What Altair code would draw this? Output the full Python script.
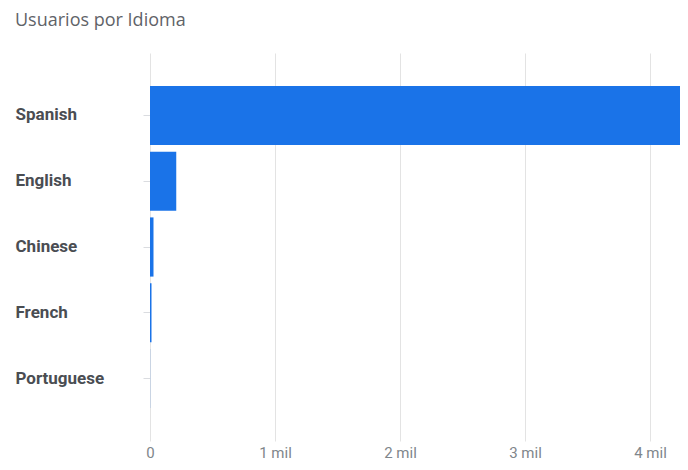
import altair as alt
import pandas as pd

languages = ["Spanish", "English", "Chinese", "French", "Portuguese"]
users = [4300, 210, 28, 12, 1]
x_ticks = [0, 1000, 2000, 3000, 4000]

df = pd.DataFrame({"Idioma": languages, "Usuarios": users})

chart = (
    alt.Chart(df)
    .mark_bar(color="#1a73e8", clip=True)
    .encode(
        y=alt.Y(
            "Idioma:N",
            sort=languages,
            title=None,
            scale=alt.Scale(paddingInner=0.1, paddingOuter=0.5),
            axis=alt.Axis(
                domain=False,
                grid=False,
                ticks=True,
                tickSize=7,
                tickColor="#dadce0",
                labelAlign="left",
                labelPadding=128,
                labelFont="Roboto",
                labelFontSize=17,
                labelFontWeight="bold",
                labelColor="#4a4d52",
            ),
        ),
        x=alt.X(
            "Usuarios:Q",
            title=None,
            scale=alt.Scale(domain=[0, 4240], nice=False),
            axis=alt.Axis(
                values=x_ticks,
                labelExpr="datum.value == 0 ? '0' : (datum.value / 1000) + ' mil'",
                domain=False,
                ticks=False,
                grid=True,
                gridColor="#e3e3e3",
                labelFont="Roboto",
                labelFontSize=15,
                labelColor="#80868b",
                labelPadding=4,
                labelFlush=False,
            ),
        ),
    )
    .properties(
        width=530,
        height=388,
        title=alt.TitleParams(
            "Usuarios por Idioma",
            anchor="start",
            frame="bounds",
            font="Open Sans",
            fontSize=18,
            fontWeight="normal",
            color="#5f6368",
            offset=23,
        ),
        autosize=alt.AutoSizeParams(type="none"),
        padding={"left": 142, "top": 45, "right": 0, "bottom": 21},
    )
    .configure_view(stroke=None)
)

chart.save("out.html", embed_options={"renderer": "svg", "actions": False})
